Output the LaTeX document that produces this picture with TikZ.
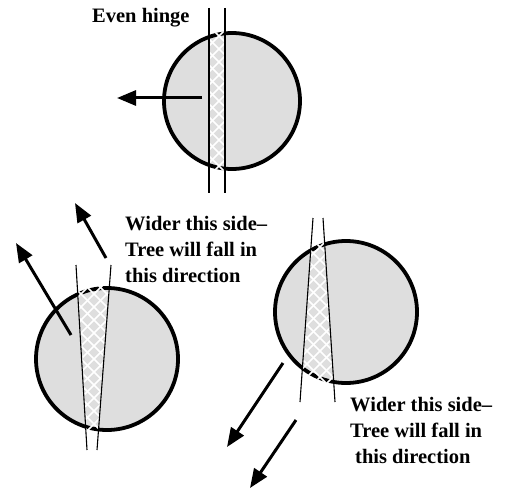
\documentclass[tikz,border=0pt]{standalone}
\usepackage{fontspec}
\setmainfont{Liberation Serif}
\usetikzlibrary{arrows.meta}
\definecolor{wood}{gray}{0.87}
\tikzset{
  trunk/.style={fill=wood},
  bark/.style={line width=3.8pt},
  cutline/.style={line width=1.1pt},
  hatchline/.style={white, line width=1.6pt},
  fallarrow/.style={line width=3pt, -{Triangle[length=19pt,width=15pt]}},
  caption/.style={font=\bfseries\fontsize{20.5}{26}\selectfont, align=left, anchor=north west, inner sep=0pt},
}
% #1 cx, #2 cy, #3 r, #4 y top, #5 y bottom, #6 x1 top, #7 x1 bottom, #8 x2 top, #9 x2 bottom
\newcommand\mytree[9]{%
  \fill[trunk] (#1,#2) circle[radius=#3];
  \draw[bark] (#1,#2) circle[radius=#3];
  \begin{scope}
    \clip (#6,#4) -- (#7,#5) -- (#9,#5) -- (#8,#4) -- cycle;
    \clip (#1,#2) circle[radius=#3+2.2];
    \foreach \k in {-16,...,16} {
      \draw[hatchline] (#1+\k*13-110,#2-110) -- ++(220,220);
      \draw[hatchline] (#1+\k*13+110,#2-110) -- ++(-220,220);
    }
  \end{scope}
  \draw[cutline] (#6,#4) -- (#7,#5);
  \draw[cutline] (#8,#4) -- (#9,#5);
}
\begin{document}
\begin{tikzpicture}[x=1pt,y=-1pt]
\useasboundingbox (0,0) rectangle (508,492);

% top tree: even hinge
\mytree{232}{101}{68}{8}{193}{209}{209}{225}{225}
% bottom-left tree
\mytree{107}{359}{71}{265}{450}{76}{87}{111}{97}
% bottom-right tree
\mytree{346}{312}{71}{218}{402}{313}{300}{323}{335}

% arrows
\coordinate (a1s) at (202,98);
\coordinate (a1e) at (117,98);
\coordinate (a2s) at (71,335);
\coordinate (a2e) at (16,243);
\coordinate (a3s) at (106,258);
\coordinate (a3e) at (75,203);
\coordinate (a4s) at (283,363);
\coordinate (a4e) at (227,447);
\coordinate (a5s) at (296,420);
\coordinate (a5e) at (250,488);
\draw[fallarrow] (a1s) -- (a1e);
\draw[fallarrow] (a2s) -- (a2e);
\draw[fallarrow] (a3s) -- (a3e);
\draw[fallarrow] (a4s) -- (a4e);
\draw[fallarrow] (a5s) -- (a5e);

% labels
\node[caption] (t0) at (92,8) {Even hinge};
\node[caption] (t1) at (125,216) {Wider this side--\\Tree will fall in\\this direction};
\node[caption] (t2) at (350,397) {Wider this side--\\Tree will fall in\\\hspace*{5pt}this direction};
\end{tikzpicture}
\end{document}
